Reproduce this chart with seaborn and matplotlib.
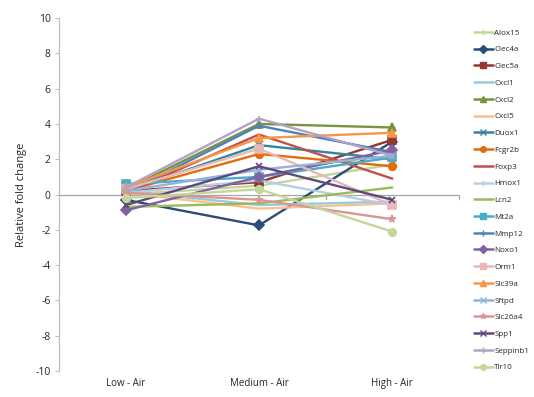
import matplotlib
matplotlib.use("Agg")
import matplotlib.pyplot as plt
from matplotlib.lines import Line2D
import seaborn as sns
import pandas as pd

conditions = ["Low - Air", "Medium - Air", "High - Air"]

genes = ["Alox15", "Clec4a", "Clec5a", "Cxcl1", "Cxcl2", "Cxcl5", "Duox1",
         "Fcgr2b", "Foxp3", "Hmox1", "Lcn2", "Mt2a", "Mmp12", "Noxo1", "Orm1",
         "Slc39a", "Sftpd", "Slc26a4", "Spp1", "Seppinb1", "Tlr10"]

# fold change per gene at Low / Medium / High
alox15 = [0.0, 0.5, 1.7]
clec4a = [-0.3, -1.75, 3.0]
clec5a = [0.2, 0.7, 3.1]
cxcl1 = [0.2, -0.6, -0.4]
cxcl2 = [0.3, 4.0, 3.8]
cxcl5 = [0.1, -0.8, -0.5]
duox1 = [0.2, 2.8, 2.0]
fcgr2b = [0.2, 2.3, 1.6]
foxp3 = [0.1, 3.4, 0.9]
hmox1 = [0.1, 0.8, -0.6]
lcn2 = [-0.7, -0.5, 0.4]
mt2a = [0.6, 1.0, 2.1]
mmp12 = [0.1, 3.9, 2.4]
noxo1 = [-0.9, 1.0, 2.5]
orm1 = [0.3, 2.6, -0.6]
slc39a = [0.4, 3.2, 3.5]
sftpd = [0.2, 1.4, 2.2]
slc26a4 = [0.1, -0.3, -1.4]
spp1 = [-0.6, 1.6, -0.3]
seppinb1 = [0.4, 4.3, 2.2]
tlr10 = [-0.2, 0.3, -2.1]

values = [alox15, clec4a, clec5a, cxcl1, cxcl2, cxcl5, duox1, fcgr2b, foxp3,
          hmox1, lcn2, mt2a, mmp12, noxo1, orm1, slc39a, sftpd, slc26a4, spp1,
          seppinb1, tlr10]

colors = ["#C3D69B", "#2C4D75", "#953735", "#93CDDD", "#77933C", "#FAC090",
          "#31859C", "#E46C0A", "#C0504D", "#B9CDE5", "#9BBB59", "#4BACC6",
          "#4F81BD", "#8064A2", "#E6B9B8", "#F79646", "#95B3D7", "#D99694",
          "#5F497A", "#B3A2C7", "#C3D69B"]
markers = ["+", "D", "s", None, "^", None, "x", "o", None, "+", None, "s",
           "+", "D", "s", "^", "x", "*", "x", "+", "o"]

rows = []
for g, vals in zip(genes, values):
    for i, v in enumerate(vals):
        rows.append({"gene": g, "pos": i, "value": v})
df = pd.DataFrame(rows)

sns.set_style("white")
plt.rcParams["font.family"] = ["Open Sans", "DejaVu Sans"]
plt.rcParams["axes.unicode_minus"] = False

fig = plt.figure(figsize=(5.34, 3.97), dpi=100)
ax = fig.add_axes([0.1105, 0.0655, 0.749, 0.889])

handles = []
for g, c, m in zip(genes, colors, markers):
    sub = df[df["gene"] == g]
    ms = 5.5 if m in ("o", "s", "^", "*") else 5
    sns.lineplot(data=sub, x="pos", y="value", color=c, marker=m,
                 markersize=ms, markeredgecolor=c, markeredgewidth=1.2,
                 linewidth=1.7, ax=ax, legend=False)
    handles.append(Line2D([0], [0], color=c, marker=m, markersize=4,
                          markeredgecolor=c, linewidth=1.8))

ax.set_xlim(-0.5, 2.5)
ax.set_ylim(-10, 10)
ax.set_yticks(range(-10, 11, 2))
ax.set_xticks(range(3))
ax.set_xticklabels(conditions, fontsize=7)
ax.tick_params(axis="x", length=0, pad=5)
ax.tick_params(axis="y", labelsize=7.5, length=3, color="#BFBFBF",
               left=True, pad=3)
for s in ["top", "right", "bottom"]:
    ax.spines[s].set_visible(False)
ax.spines["left"].set_color("#BFBFBF")
ax.spines["left"].set_linewidth(0.9)
ax.set_xlabel("")
ax.set_ylabel("Relative fold change", fontsize=8, labelpad=6)

# category axis crossing at zero
ax.axhline(0, color="#A6A6A6", linewidth=0.9, zorder=0)
for b in [0.5, 1.5, 2.5]:
    ax.plot([b, b], [0, -0.25], color="#A6A6A6", linewidth=0.9, zorder=0,
            clip_on=False)

fig.legend(handles, genes, loc="upper left", bbox_to_anchor=(0.882, 0.935),
           frameon=False, fontsize=5.8, handlelength=2.3, handletextpad=0.2,
           labelspacing=1.13, borderaxespad=0)

fig.savefig("out.png", dpi=100)
